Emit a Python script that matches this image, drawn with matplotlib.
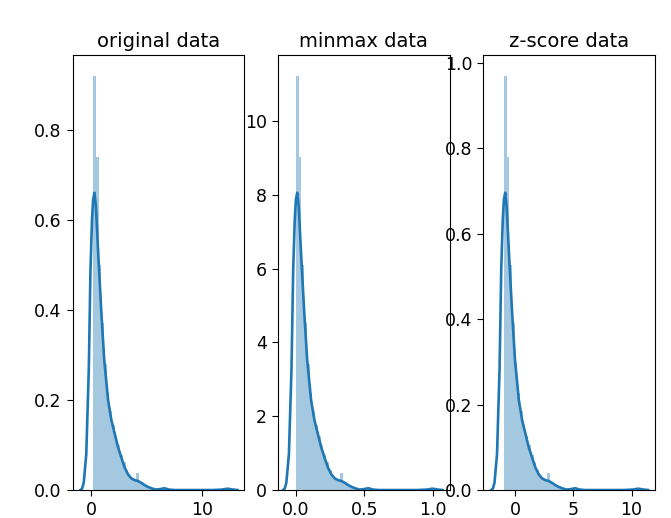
import matplotlib
matplotlib.use("Agg")
import matplotlib.pyplot as plt
import numpy as np

bin_start = 0.15
bin_width = 0.244
hist_heights = [0.92, 0.74, 0.50, 0.37, 0.28, 0.215, 0.175, 0.145, 0.12, 0.10,
                0.078, 0.062, 0.045, 0.032, 0.026, 0.020, 0.038, 0.016, 0.014, 0.010,
                0.008, 0.004, 0.0, 0.0, 0.0, 0.0, 0.004, 0.003, 0.0, 0.0,
                0.0, 0.0, 0.0, 0.0, 0.0, 0.0, 0.0, 0.0, 0.0, 0.0,
                0.0, 0.0, 0.0, 0.0, 0.0, 0.0, 0.0, 0.0, 0.0, 0.004]

# kde curve of the original data
kde_x = [-1.0, -0.85, -0.7, -0.47, -0.24, -0.09, 0.05, 0.15, 0.27, 0.4,
         0.6, 0.88, 1.15, 1.5, 1.8, 2.1, 2.4, 2.7, 3.0, 3.3,
         3.6, 3.9, 4.2, 4.5, 4.8, 5.1, 5.4, 5.8, 6.2, 6.6,
         7.0, 7.5, 9.0, 11.0, 11.8, 12.3, 12.8, 13.2]
kde_y = [0.0, 0.003, 0.016, 0.08, 0.27, 0.49, 0.6, 0.645, 0.66, 0.63,
         0.53, 0.40, 0.29, 0.20, 0.155, 0.125, 0.095, 0.072, 0.05, 0.035,
         0.026, 0.022, 0.020, 0.016, 0.011, 0.007, 0.004, 0.001, 0.002, 0.004,
         0.001, 0.0, 0.0, 0.0, 0.001, 0.003, 0.001, 0.0]

# scaling used for the two normalised panels
data_min = 0.15
data_range = 12.2
data_mean = 1.15
data_std = 1.055

titles = ["original data", "minmax data", "z-score data"]
x_limits = [(-1.7, 13.8), (-0.13, 1.12), (-2.7, 12.0)]
x_ticks = [[0, 10], [0.0, 0.5, 1.0], [0, 5, 10]]
y_ticks = [[0.0, 0.2, 0.4, 0.6, 0.8], [0, 2, 4, 6, 8, 10], [0.0, 0.2, 0.4, 0.6, 0.8, 1.0]]
y_labels = [["0.0", "0.2", "0.4", "0.6", "0.8"], ["0", "2", "4", "6", "8", "10"],
            ["0.0", "0.2", "0.4", "0.6", "0.8", "1.0"]]

plt.rcParams['font.family'] = ['DejaVu Sans']
plt.rcParams['font.size'] = 12.5

fig, axes = plt.subplots(1, 3, figsize=(6.71, 5.18), dpi=100)
fig.subplots_adjust(left=0.1083, right=0.976, top=0.894, bottom=0.054, wspace=0.198)

h = np.array(hist_heights)
edges = bin_start + bin_width * np.arange(len(h))
kx = np.array(kde_x)
ky = np.array(kde_y)

# (offset, scale) for each panel: x' = (x - offset) / scale, density' = density * scale
transforms = [(0.0, 1.0), (data_min, data_range), (data_mean, data_std)]

for i in range(3):
    ax = axes[i]
    off, sc = transforms[i]
    ax.bar((edges - off) / sc, h * sc, width=bin_width / sc, align='edge',
           color='#1f77b4', alpha=0.4, linewidth=0)
    ax.plot((kx - off) / sc, ky * sc, color='#1f77b4', lw=1.9)
    ax.set_xlim(x_limits[i])
    ax.set_xticks(x_ticks[i])
    ax.set_yticks(y_ticks[i])
    ax.set_yticklabels(y_labels[i])
    ax.set_title(titles[i], fontsize=14)
    ax.tick_params(length=4.5)

plt.savefig('out.png', dpi=100)
